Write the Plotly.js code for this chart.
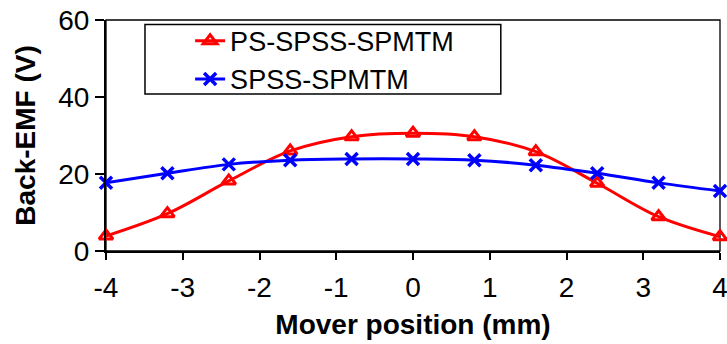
<!DOCTYPE html>
<html>
<head>
<meta charset="utf-8">
<script src="https://cdn.plot.ly/plotly-3.0.1.min.js"></script>
<style>html,body{margin:0;padding:0;background:#fff;}#chart{width:727px;height:344px;}</style>
</head>
<body>
<div id="chart"></div>
<script>
const positions = [-4, -3.2, -2.4, -1.6, -0.8, 0, 0.8, 1.6, 2.4, 3.2, 4];
const psSpssSpmtm = [3.9, 9.7, 18.2, 26.0, 29.7, 30.6, 29.7, 25.8, 17.6, 8.9, 3.7];
const spssSpmtm = [17.7, 20.2, 22.5, 23.6, 23.9, 23.9, 23.6, 22.3, 20.2, 17.7, 15.6];
const seriesNames = ['PS-SPSS-SPMTM', 'SPSS-SPMTM'];
const xTickVals = [-4, -3, -2, -1, 0, 1, 2, 3, 4];
const yTickVals = [0, 20, 40, 60];

const FONT = 'Liberation Sans, Arial, sans-serif';

const traces = [
  {
    x: positions, y: psSpssSpmtm, name: seriesNames[0], type: 'scatter', mode: 'lines+markers',
    line: {color: '#FF0000', width: 3, shape: 'spline'},
    marker: {symbol: 'triangle-up-open', size: 12, color: '#FF0000', line: {width: 3, color: '#FF0000'}},
    cliponaxis: false
  },
  {
    x: positions, y: spssSpmtm, name: seriesNames[1], type: 'scatter', mode: 'lines+markers',
    line: {color: '#0000FF', width: 3, shape: 'spline'},
    marker: {symbol: 'x-thin-open', size: 12, color: '#0000FF', line: {width: 3.5, color: '#0000FF'}},
    cliponaxis: false
  }
];

const layout = {
  width: 727, height: 344,
  margin: {l: 106, r: 7, t: 20, b: 93},
  paper_bgcolor: '#fff', plot_bgcolor: '#fff',
  font: {family: FONT, color: '#000', size: 27},
  showlegend: true,
  legend: {
    x: 0.137, y: 1.014, xanchor: 'left', yanchor: 'top',
    bgcolor: 'rgba(0,0,0,0)', borderwidth: 0,
    font: {family: FONT, size: 27, color: '#000'}
  },
  xaxis: {
    range: [-4, 4], tickvals: xTickVals, ticktext: xTickVals.map(String),
    ticks: 'outside', ticklen: 7, tickwidth: 2, tickcolor: '#000',
    showline: true, linewidth: 2, linecolor: '#000',
    showgrid: false, zeroline: false,
    ticklabeloverflow: 'allow', ticklabelstandoff: 3,
    tickfont: {family: FONT, size: 28, color: '#000'},
    title: {text: '<b>Mover position (mm)</b>', font: {family: FONT, size: 28, color: '#000'}, standoff: 13}
  },
  yaxis: {
    range: [0, 60], tickvals: yTickVals, ticktext: yTickVals.map(String),
    ticks: 'outside', ticklen: 9, tickwidth: 2, tickcolor: '#000',
    showline: true, linewidth: 2, linecolor: '#000',
    showgrid: false, zeroline: false,
    tickfont: {family: FONT, size: 28, color: '#000'},
    title: {text: '<b>Back-EMF (V)</b>', font: {family: FONT, size: 28, color: '#000'}, standoff: 14}
  },
  shapes: [
    {type: 'rect', xref: 'paper', yref: 'paper', x0: 0, x1: 1, y0: 0, y1: 1,
     line: {color: '#000', width: 1.3}, layer: 'below'},
    {type: 'rect', xref: 'paper', yref: 'paper', x0: 0.0635, x1: 0.643, y0: 0.680, y1: 0.9805,
     line: {color: '#000', width: 1.5}, fillcolor: '#fff', layer: 'below'}
  ]
};

Plotly.newPlot('chart', traces, layout, {staticPlot: true, displayModeBar: false});
</script>
</body>
</html>
